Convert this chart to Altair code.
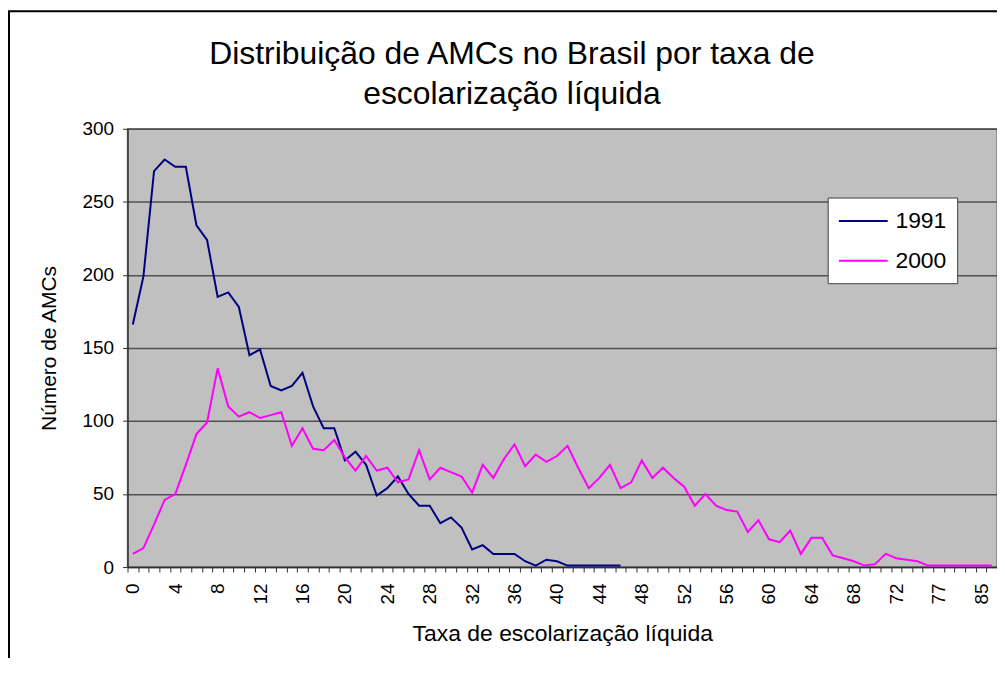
import altair as alt
import pandas as pd

# Categories (net school enrolment rate, %) as they appear on the category axis
categorias = [
    "0", "1", "2", "3", "4", "5", "6", "7", "8", "9",
    "10", "11", "12", "13", "14", "15", "16", "17", "18", "19",
    "20", "21", "22", "23", "24", "25", "26", "27", "28", "29",
    "30", "31", "32", "33", "34", "35", "36", "37", "38", "39",
    "40", "41", "42", "43", "44", "45", "46", "47", "48", "49",
    "50", "51", "52", "53", "54", "55", "56", "57", "58", "59",
    "60", "61", "62", "63", "64", "65", "66", "67", "68", "69",
    "70", "71", "72", "73", "74", "76", "77", "79", "80", "83",
    "85", "86",
]

# Number of AMCs, 1991 (series stops at category 46)
amcs_1991 = [
    166, 199, 271, 279, 274, 274, 234, 224, 185, 188,
    178, 145, 149, 124, 121, 124, 133, 110, 95, 95,
    73, 79, 70, 49, 54, 62, 50, 42, 42, 30,
    34, 27, 12, 15, 9, 9, 9, 4, 1, 5,
    4, 1, 1, 1, 1, 1, 1,
]

# Number of AMCs, 2000
amcs_2000 = [
    9, 13, 29, 46, 50, 70, 91, 99, 136, 110,
    103, 106, 102, 104, 106, 83, 95, 81, 80, 87,
    75, 66, 76, 66, 68, 58, 60, 80, 60, 68,
    65, 62, 51, 70, 61, 74, 84, 69, 77, 72,
    76, 83, 68, 54, 61, 70, 54, 58, 73, 61,
    68, 61, 55, 42, 50, 42, 39, 38, 24, 32,
    19, 17, 25, 9, 20, 20, 8, 6, 4, 1,
    2, 9, 6, 5, 4, 1, 1, 1, 1, 1,
    1, 1,
]

series = ["1991", "2000"]
cores = ["#000080", "#FF00FF"]
y_ticks = [0, 50, 100, 150, 200, 250, 300]
rotulos_x = categorias[::4]
titulo = ["Distribuição de AMCs no Brasil por taxa de", "escolarização líquida"]

rows = []
for i, v in enumerate(amcs_1991):
    rows.append({"taxa": categorias[i], "ordem": i, "ano": "1991", "n": v})
for i, v in enumerate(amcs_2000):
    rows.append({"taxa": categorias[i], "ordem": i, "ano": "2000", "n": v})
df = pd.DataFrame(rows)

shown = "[" + ",".join("'" + c + "'" for c in rotulos_x) + "]"
label_expr = "indexof(" + shown + ", datum.value) >= 0 ? datum.value : ''"

FONT = "Liberation Sans"

x_enc = alt.X(
    "taxa:O",
    scale=alt.Scale(domain=categorias, type="band", paddingInner=0, paddingOuter=0),
    axis=alt.Axis(
        title="Taxa de escolarização líquida",
        labelAngle=270,
        labelExpr=label_expr,
        tickBand="extent",
        tickSize=5,
        labelPadding=11,
        labelFontSize=19,
        titleFontSize=23,
        titlePadding=19,
        grid=False,
        domainColor="#303030",
        domainWidth=1.5,
        tickColor="#303030",
        labelOverlap=False,
    ),
)

y_enc = alt.Y(
    "n:Q",
    scale=alt.Scale(domain=[0, 300], nice=False),
    axis=alt.Axis(
        title="Número de AMCs",
        values=y_ticks,
        tickSize=5,
        labelPadding=9,
        labelFontSize=19,
        titleFontSize=21,
        titlePadding=23,
        grid=True,
        gridColor="#505050",
        gridWidth=1.5,
        domainColor="#303030",
        domainWidth=1.5,
        tickColor="#303030",
    ),
)

lines = alt.Chart(df).mark_line(strokeWidth=2).encode(
    x=x_enc,
    y=y_enc,
    color=alt.Color(
        "ano:N",
        scale=alt.Scale(domain=series, range=cores),
        legend=alt.Legend(
            title=None,
            orient="none",
            legendX=703,
            legendY=69,
            fillColor="white",
            strokeColor="#404040",
            padding=10,
            symbolType="M-1,0H3",
            symbolSize=600,
            symbolStrokeWidth=2,
            labelFontSize=23,
            labelFont=FONT,
            labelColor="black",
            labelOffset=31,
            rowPadding=14,
        ),
    ),
    order=alt.Order("ordem:Q"),
)

frame = alt.Chart(alt.Data(values=[{"k": 1}])).mark_rect(
    fill="transparent", stroke="black", strokeWidth=2
).encode(
    x=alt.value(-119), x2=alt.value(1000), y=alt.value(-118), y2=alt.value(700)
)

title1 = alt.Chart(alt.Data(values=[{"k": 1}])).mark_text(
    font=FONT, fontSize=32, color="black", align="center", baseline="alphabetic"
).encode(x=alt.value(386), y=alt.value(-65), text=alt.value(titulo[0]))

title2 = alt.Chart(alt.Data(values=[{"k": 1}])).mark_text(
    font=FONT, fontSize=32, color="black", align="center", baseline="alphabetic"
).encode(x=alt.value(386), y=alt.value(-25), text=alt.value(titulo[1]))

chart = (
    alt.layer(lines, frame, title1, title2)
    .properties(
        width=873,
        height=440,
        autosize=alt.AutoSizeParams(type="none"),
        padding={"left": 120, "top": 120, "right": 0, "bottom": 90},
    )
    .configure(background="white")
    .configure_view(fill="#C0C0C0", stroke="#808080", strokeWidth=1.5)
    .configure_axis(labelFont=FONT, titleFont=FONT, labelColor="black", titleColor="black",
                    titleFontWeight="normal")
)

chart.save("out.html", embed_options={"renderer": "svg", "actions": False})
